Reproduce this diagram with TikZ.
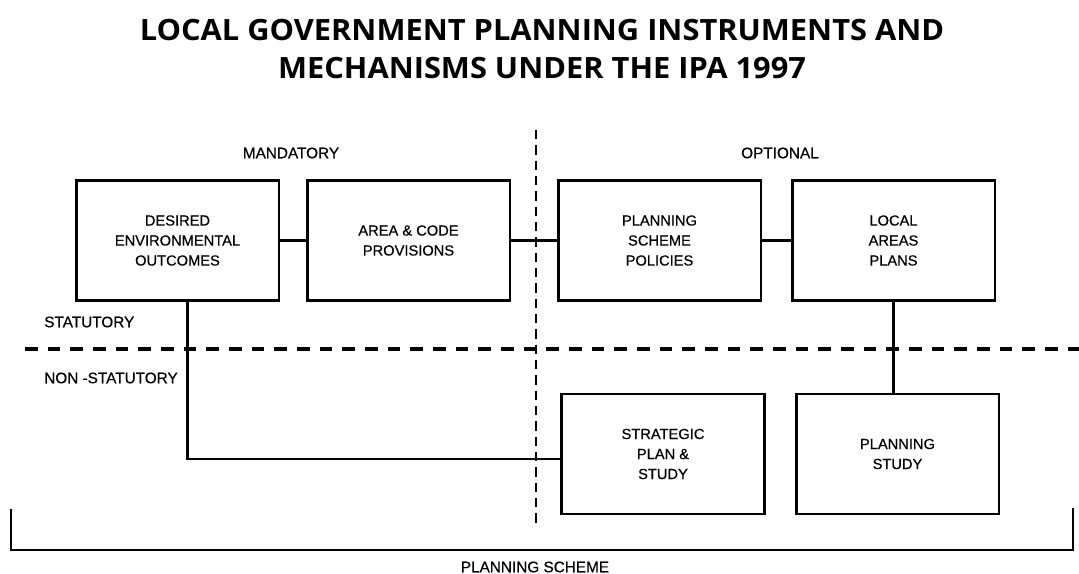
\documentclass[tikz,border=0pt]{standalone}
\usepackage{fontspec}
\setmainfont{Liberation Sans}
\newfontfamily\titlefont{Open Sans}[FakeStretch=1.05]
\newfontfamily\boxfont{Liberation Sans}[FakeBold=0.5]
\usepackage{tikz}

\tikzset{
  box/.style={draw, line width=2pt, minimum width=152pt, minimum height=90pt,
    align=center, font=\boxfont\fontsize{11}{15}\selectfont, inner sep=2pt},
  link/.style={line width=2pt},
  lbl/.style={font=\boxfont\fontsize{11.5}{13}\selectfont, inner sep=0.75pt},
  divide/.style={line width=2.5pt, dash pattern=on 9.5pt off 7.5pt},
  divideV/.style={line width=2pt, dash pattern=on 7pt off 4.5pt}
}

\begin{document}
\begin{tikzpicture}[x=0.75pt,y=0.75pt,yscale=-1,xscale=1]
\useasboundingbox (0,0) rectangle (1079,574);

% Title
\node (title1) at (542,30) {\titlefont\bfseries\fontsize{22}{25}\selectfont LOCAL GOVERNMENT PLANNING INSTRUMENTS AND};
\node (title2) at (542,68) {\titlefont\bfseries\fontsize{22}{25}\selectfont MECHANISMS UNDER THE IPA 1997};

% Statutory boxes
\node [box] (deo) at (177.5,240.5) {DESIRED\\ENVIRONMENTAL\\OUTCOMES};
\node [box] (acp) at (408.5,240.5) {AREA \& CODE\\PROVISIONS};
\node [box] (psp) at (659.5,240.5) {PLANNING\\SCHEME\\POLICIES};
\node [box] (lap) at (893.5,240.5) {LOCAL\\AREAS\\PLANS};

% Non-statutory boxes
\node [box] (sps) at (663,454) {STRATEGIC\\PLAN \&\\STUDY};
\node [box] (pst) at (897.5,454) {PLANNING\\STUDY};

% Dividers
\draw [divideV] (536,130) -- (536,525);
\draw [divide] (25,349) -- (1079,349);

% Links
\draw [link] (deo) -- (acp);
\draw [link] (acp) -- (psp);
\draw [link] (psp) -- (lap);
\draw [link] (lap.south) -- (lap.south |- pst.north);
\draw [link] ([xshift=7.5pt]deo.south) |- ([yshift=3.75pt]sps.west);

% Planning scheme bracket
\draw [link, line cap=rect] (11,510) -- (11,550) -- (1073,550) -- (1073,509);

% Labels
\node [lbl] (mand) at (291,153) {MANDATORY};
\node [lbl] (opt) at (780,153) {OPTIONAL};
\node [lbl, anchor=west] (stat) at (43,322) {STATUTORY};
\node [lbl, anchor=west] (nonstat) at (43,378) {NON -STATUTORY};
\node [lbl] (scheme) at (535,567) {PLANNING SCHEME};
\end{tikzpicture}
\end{document}
